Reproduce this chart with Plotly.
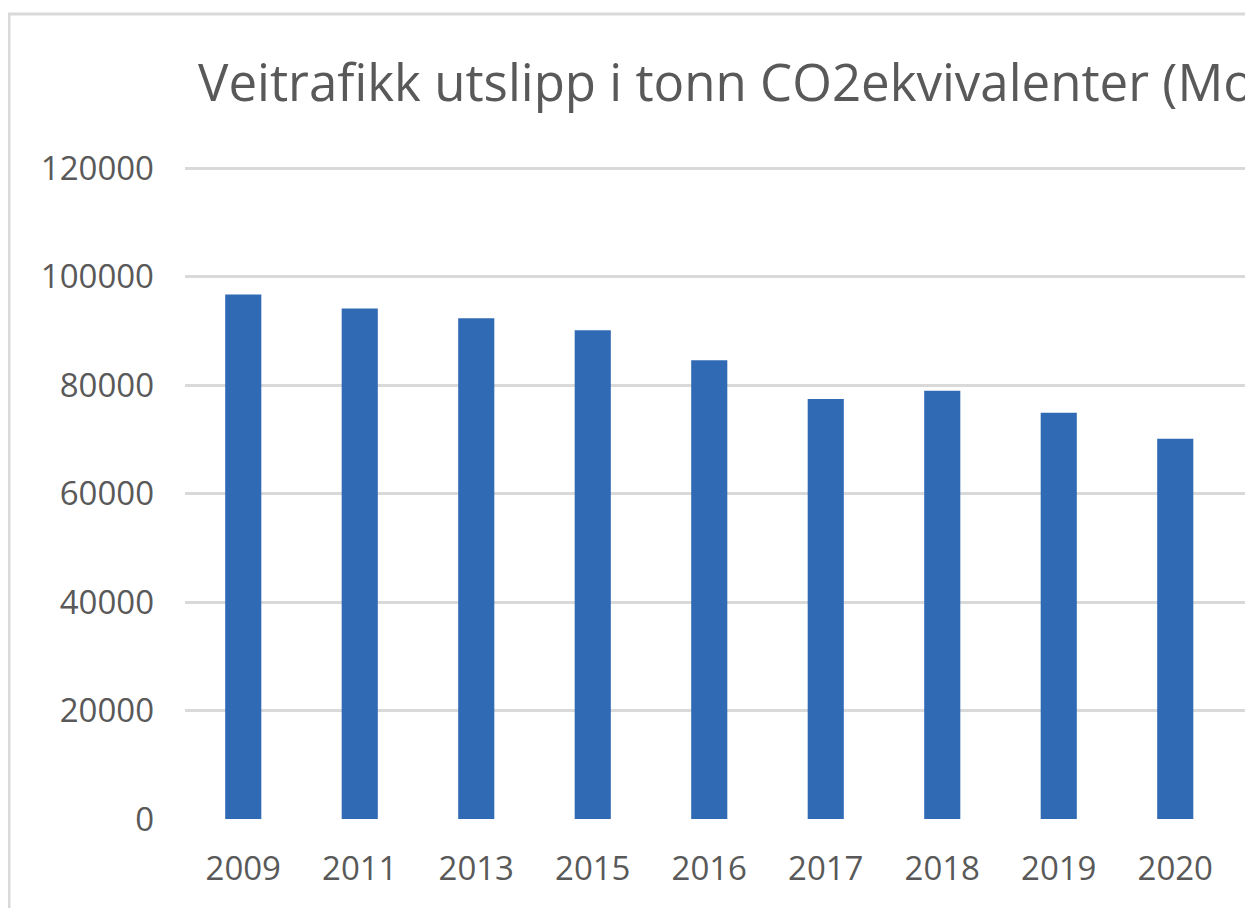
import plotly.graph_objects as go

years = ["2009", "2011", "2013", "2015", "2016", "2017", "2018", "2019", "2020"]
emissions = [96700, 94100, 92300, 90100, 84550, 77400, 78950, 74900, 70100]
y_ticks = [0, 20000, 40000, 60000, 80000, 100000, 120000]
title_text = "Veitrafikk utslipp i tonn CO2ekvivalenter (Molde)"

# the page body adds an 8px offset; pixel positions below compensate for it
OFF = 8
W, H = 1253, 908
L, R = 185 - OFF, 0
T = 168 - OFF - 2
B = H - (819 - OFF)
FONT = "Open Sans"
TXT = "#595959"

fig = go.Figure(go.Bar(
    x=list(range(len(years))), y=emissions,
    marker=dict(color="#316AB4", line=dict(width=0)),
))

pw = W - L - R
ph = H - T - B
cat_w = 116.5
x_max = -0.5 + pw / cat_w
y_top = 120000 + 20000 * 2 / 108.5

fig.update_layout(
    width=W, height=H,
    margin=dict(l=L, r=R, t=T, b=B, pad=0),
    paper_bgcolor="white", plot_bgcolor="white",
    showlegend=False,
    bargap=0.69,
    font=dict(family=FONT, color=TXT, size=33),
    title=dict(text=title_text, xref="container", yref="container",
               x=(198 - OFF) / W, xanchor="left", y=1 - (83.5 - OFF) / H, yanchor="middle",
               font=dict(family=FONT, size=51, color=TXT)),
    xaxis=dict(range=[-0.5, x_max], tickmode="array",
               tickvals=list(range(len(years))), ticktext=years,
               showgrid=False, zeroline=False, showline=False, ticks="",
               tickfont=dict(size=33, color=TXT), ticklabelstandoff=27),
    yaxis=dict(range=[0, y_top], tickmode="array", tickvals=y_ticks,
               ticktext=[str(v) for v in y_ticks],
               showgrid=True, gridcolor="#D9D9D9", gridwidth=3,
               zeroline=False, showline=False, ticks="",
               tickfont=dict(size=33, color=TXT), ticklabelstandoff=30),
    shapes=[dict(type="rect", xref="paper", yref="paper",
                 x0=(9 - OFF - L) / pw, x1=1.2, y0=-0.5,
                 y1=(H - B - (14 - OFF)) / ph,
                 line=dict(color="#D9D9D9", width=3), layer="below")],
)

fig.write_html("out.html")
